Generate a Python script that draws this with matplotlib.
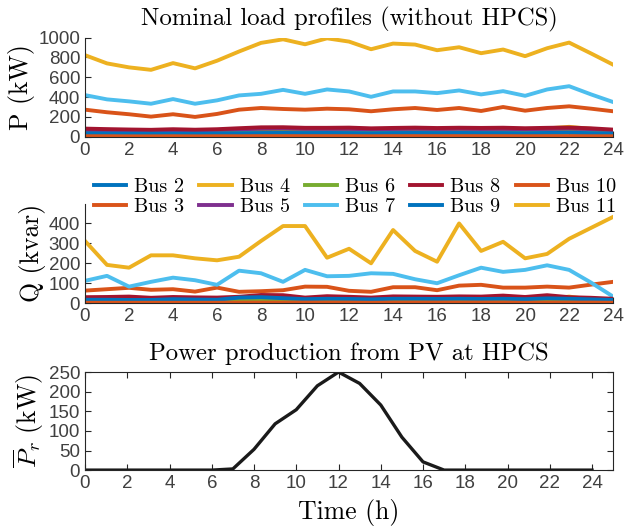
import matplotlib
matplotlib.use("Agg")
import matplotlib.pyplot as plt

plt.rcParams['mathtext.fontset'] = 'cm'
plt.rcParams['axes.unicode_minus'] = False

hours = list(range(25))

# active power per bus (kW)
bus2_p = [45, 43, 42, 41, 42, 41, 42, 45, 47, 48, 47, 48, 48, 45, 47, 48, 47, 48, 47, 47, 45, 48, 50, 46, 40]
bus3_p = [273, 247, 227, 203, 227, 200, 230, 273, 290, 280, 273, 283, 277, 257, 277, 290, 270, 290, 260, 300, 263, 290, 307, 283, 257]
bus4_p = [62, 58, 56, 54, 57, 55, 59, 66, 74, 77, 72, 74, 73, 67, 71, 74, 71, 73, 69, 73, 70, 84, 100, 80, 56]
bus5_p = [55, 52, 50, 48, 51, 49, 52, 58, 64, 66, 62, 64, 63, 58, 62, 64, 61, 63, 60, 63, 59, 64, 68, 61, 50]
bus6_p = [30, 28, 27, 26, 28, 27, 30, 36, 42, 44, 40, 40, 40, 36, 39, 41, 39, 41, 39, 40, 37, 40, 43, 38, 28]
bus7_p = [420, 377, 357, 333, 380, 333, 367, 417, 433, 473, 433, 477, 457, 403, 457, 457, 440, 467, 427, 460, 413, 477, 510, 427, 350]
bus8_p = [82, 77, 73, 70, 76, 71, 76, 86, 95, 96, 90, 90, 92, 85, 89, 92, 88, 91, 89, 91, 86, 90, 93, 85, 72]
bus9_p = [35, 33, 32, 31, 32, 31, 33, 35, 37, 38, 37, 38, 37, 35, 37, 38, 37, 38, 37, 37, 35, 38, 40, 36, 32]
bus10_p = [5, 5, 4, 4, 5, 4, 5, 5, 6, 6, 6, 6, 6, 5, 6, 6, 6, 6, 6, 6, 5, 6, 6, 5, 5]
bus11_p = [823, 740, 700, 675, 743, 690, 767, 860, 947, 983, 933, 993, 960, 883, 940, 930, 873, 903, 843, 880, 813, 893, 950, 840, 727]

# reactive power per bus (kvar)
bus2_q = [20, 19, 19, 18, 19, 18, 19, 22, 28, 27, 22, 24, 23, 21, 24, 24, 23, 24, 23, 24, 22, 25, 24, 21, 18]
bus3_q = [63, 70, 77, 67, 70, 58, 78, 57, 60, 65, 83, 82, 62, 57, 80, 80, 65, 88, 92, 78, 78, 83, 78, 93, 107]
bus4_q = [8, 8, 7, 7, 8, 7, 8, 9, 12, 13, 11, 11, 11, 10, 11, 11, 11, 12, 11, 12, 12, 20, 33, 18, 10]
bus5_q = [22, 22, 24, 20, 22, 21, 21, 23, 30, 31, 24, 27, 25, 23, 26, 26, 25, 27, 27, 29, 25, 30, 26, 22, 20]
bus6_q = [12, 12, 11, 11, 12, 11, 12, 14, 16, 16, 14, 15, 15, 13, 14, 15, 14, 15, 14, 15, 13, 15, 16, 13, 11]
bus7_q = [112, 137, 83, 107, 128, 115, 92, 163, 150, 107, 167, 135, 137, 150, 147, 120, 100, 140, 178, 157, 167, 190, 167, 103, 33]
bus8_q = [30, 31, 33, 27, 31, 29, 28, 32, 41, 40, 28, 35, 32, 28, 34, 33, 32, 34, 33, 38, 31, 40, 30, 27, 22]
bus9_q = [17, 17, 16, 16, 20, 18, 17, 28, 30, 25, 20, 22, 21, 19, 22, 22, 21, 22, 21, 22, 20, 24, 22, 19, 16]
bus10_q = [2, 2, 2, 2, 2, 2, 2, 3, 3, 3, 3, 3, 3, 2, 3, 3, 3, 3, 3, 3, 2, 3, 3, 3, 2]
bus11_q = [312, 192, 178, 240, 240, 225, 215, 233, 312, 387, 387, 228, 273, 200, 367, 262, 208, 400, 262, 308, 225, 247, 323, 378, 433]

# PV production at HPCS (kW)
pv = [0, 0, 0, 0, 0, 0, 0, 3, 53, 118, 154, 215, 250, 221, 166, 84, 21, 0, 0, 0, 0, 0, 0, 0, 0]

bus_names = ['Bus 2', 'Bus 3', 'Bus 4', 'Bus 5', 'Bus 6', 'Bus 7', 'Bus 8', 'Bus 9', 'Bus 10', 'Bus 11']
p_series = [bus2_p, bus3_p, bus4_p, bus5_p, bus6_p, bus7_p, bus8_p, bus9_p, bus10_p, bus11_p]
q_series = [bus2_q, bus3_q, bus4_q, bus5_q, bus6_q, bus7_q, bus8_q, bus9_q, bus10_q, bus11_q]

colors = ['#0072BD', '#D95319', '#EDB120', '#7E2F8E', '#77AC30',
          '#4DBEEE', '#A2142F', '#0072BD', '#D95319', '#EDB120']

tick_color = '#262626'
serif = 'cmr10'
lw = 2.8


def style_axes(ax, box=False):
    ax.tick_params(direction='in', colors=tick_color, labelsize=13.5, length=4,
                   top=box, right=box)
    ax.tick_params(labelcolor='#404040')
    for lab in ax.get_xticklabels() + ax.get_yticklabels():
        lab.set_fontfamily('Liberation Sans')
    for s in ax.spines.values():
        s.set_color(tick_color)
        s.set_linewidth(0.8)
    if not box:
        ax.spines['top'].set_visible(False)
        ax.spines['right'].set_visible(False)


fig = plt.figure(figsize=(6.25, 5.30), dpi=100)

ax1 = fig.add_axes([0.136, 0.742, 0.845, 0.187])
ax2 = fig.add_axes([0.136, 0.428, 0.845, 0.188])
ax3 = fig.add_axes([0.136, 0.113, 0.845, 0.185])

handles = []
for name, p, q, c in zip(bus_names, p_series, q_series, colors):
    h, = ax1.plot(hours, p, color=c, lw=lw, label=name)
    ax2.plot(hours, q, color=c, lw=lw)
    handles.append(h)

ax1.set_xlim(0, 24)
ax1.set_ylim(0, 1000)
ax1.set_xticks(range(0, 25, 2))
ax1.set_yticks(range(0, 1001, 200))
ax1.set_title('Nominal load profiles (without HPCS)', fontfamily=serif, fontsize=17.8, pad=9)
ax1.set_ylabel('P (kW)', fontfamily=serif, fontsize=18.5, labelpad=2)
style_axes(ax1)

ax2.set_xlim(0, 24)
ax2.set_ylim(0, 500)
ax2.set_xticks(range(0, 25, 2))
ax2.set_yticks(range(0, 401, 100))
ax2.set_ylabel('Q (kvar)', fontfamily=serif, fontsize=18.5, labelpad=2)
style_axes(ax2)

ax3.plot(hours, pv, color='#1a1a1a', lw=2.4)
ax3.set_xlim(0, 25)
ax3.set_ylim(0, 250)
ax3.set_xticks(range(0, 25, 2))
ax3.set_yticks(range(0, 251, 50))
ax3.set_title('Power production from PV at HPCS', fontfamily=serif, fontsize=17.8, pad=9)
ax3.set_ylabel(r'$\overline{P}_r\ \mathrm{(kW)}$', fontsize=18.5, labelpad=2)
ax3.set_xlabel('Time (h)', fontfamily=serif, fontsize=18.5, labelpad=5)
style_axes(ax3, box=True)

fig.legend(handles=handles, loc='center', bbox_to_anchor=(0.568, 0.628), ncol=5,
           frameon=False, prop={'family': serif, 'size': 14.5},
           handlelength=1.6, handletextpad=0.4, columnspacing=0.75,
           labelspacing=0.1, borderpad=0.1)

fig.savefig('out.png', dpi=100)
